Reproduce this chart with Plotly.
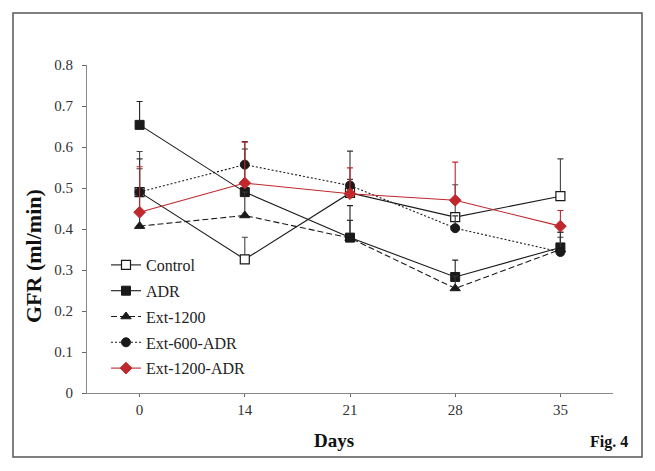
import plotly.graph_objects as go

days = ["0", "14", "21", "28", "35"]

control = [0.49, 0.326, 0.488, 0.429, 0.48]
control_err = [0.099, 0.054, 0.033, 0.079, 0.091]

adr = [0.654, 0.49, 0.379, 0.283, 0.355]
adr_err = [0.057, 0.105, 0.078, 0.041, 0.037]

ext1200 = [0.407, 0.433, 0.378, 0.255, 0.35]
ext1200_err = [0.14, 0.057, 0.043, 0.03, 0.03]

ext600adr = [0.49, 0.557, 0.506, 0.402, 0.344]
ext600adr_err = [0.081, 0.056, 0.084, 0.03, 0.048]

ext1200adr = [0.441, 0.512, 0.486, 0.47, 0.407]
ext1200adr_err = [0.111, 0.1, 0.063, 0.093, 0.038]

series_names = ["Control", "ADR", "Ext-1200", "Ext-600-ADR", "Ext-1200-ADR"]

RED = "#c0282d"
BLK = "#1a1a1a"
SERIF = "Liberation Serif, Times New Roman, DejaVu Serif, serif"

styles = [
    dict(line=dict(color=BLK, width=1.1, dash="solid"),
         marker=dict(symbol="square", size=9, color="white", line=dict(color=BLK, width=1.2)), ec="#444"),
    dict(line=dict(color=BLK, width=1.1, dash="solid"),
         marker=dict(symbol="square", size=9, color=BLK, line=dict(color=BLK, width=1)), ec="#222"),
    dict(line=dict(color=BLK, width=1.1, dash="6px,3px"),
         marker=dict(symbol="triangle-up", size=9, color=BLK, line=dict(color=BLK, width=1)), ec="#333"),
    dict(line=dict(color=BLK, width=1.1, dash="2px,2px"),
         marker=dict(symbol="circle", size=9, color=BLK, line=dict(color=BLK, width=1)), ec="#333"),
    dict(line=dict(color=RED, width=1.1, dash="solid"),
         marker=dict(symbol="diamond", size=9, color=RED, line=dict(color=RED, width=1)), ec=RED),
]

values = [control, adr, ext1200, ext600adr, ext1200adr]
errors = [control_err, adr_err, ext1200_err, ext600adr_err, ext1200adr_err]

fig = go.Figure()
for i, (name, vals, errs, st) in enumerate(zip(series_names, values, errors, styles)):
    fig.add_trace(go.Scatter(
        x=days, y=vals, name=name, mode="lines+markers",
        line=st["line"], marker=st["marker"], legendgroup=name,
        error_y=dict(type="data", array=errs, arrayminus=[0] * len(errs), symmetric=False,
                     color=st["ec"], thickness=1.1, width=3),
    ))

L, R, T, B = 87, 42, 65, 78
W, H = 655, 471
pw, ph = W - L - R, H - T - B

def px(x):
    return (x - L) / pw

def py(y):
    return (H - B - y) / ph

fig.update_layout(
    width=W, height=H,
    margin=dict(l=L, r=R, t=T, b=B),
    paper_bgcolor="white", plot_bgcolor="white",
    font=dict(family=SERIF, size=15, color="#333"),
    showlegend=True,
    legend=dict(x=px(106), y=py(248), xanchor="left", yanchor="top",
                bgcolor="rgba(0,0,0,0)", font=dict(family=SERIF, size=16, color="#222"),
                tracegroupgap=2, traceorder="grouped", itemwidth=30),
    xaxis=dict(type="category", range=[-0.5, 4.5], showgrid=False, zeroline=False,
               showline=True, linecolor="#888", linewidth=1,
               ticks="outside", ticklen=3, tickcolor="#666",
               tickfont=dict(family=SERIF, size=15, color="#333")),
    yaxis=dict(range=[0, 0.8], dtick=0.1, showgrid=False, zeroline=False,
               showline=True, linecolor="#888", linewidth=1,
               ticks="outside", ticklen=4, tickcolor="#666", tickformat="~g",
               ticklabelstandoff=6,
               tickfont=dict(family=SERIF, size=15, color="#333")),
    shapes=[dict(type="rect", xref="paper", yref="paper",
                 x0=px(13), x1=px(642), y0=py(457), y1=py(13),
                 line=dict(color="#555", width=1.5), fillcolor="rgba(0,0,0,0)", layer="below")],
    annotations=[
        dict(text="<b>Days</b>", xref="paper", yref="paper", x=px(334), y=py(440),
             xanchor="center", yanchor="middle",
             showarrow=False, font=dict(family=SERIF, size=19, color="#111")),
        dict(text="<b>Fig. 4</b>", xref="paper", yref="paper", x=px(609), y=py(442),
             xanchor="center", yanchor="middle",
             showarrow=False, font=dict(family=SERIF, size=16, color="#111")),
        dict(text="<b>GFR (ml/min)</b>", xref="paper", yref="paper", x=px(33), y=py(256),
             xanchor="center", yanchor="middle",
             showarrow=False, textangle=-90, font=dict(family=SERIF, size=22, color="#111")),
    ],
)

fig.write_html("out.html", config={"displayModeBar": False},
               post_script="document.body.style.margin='0';")
